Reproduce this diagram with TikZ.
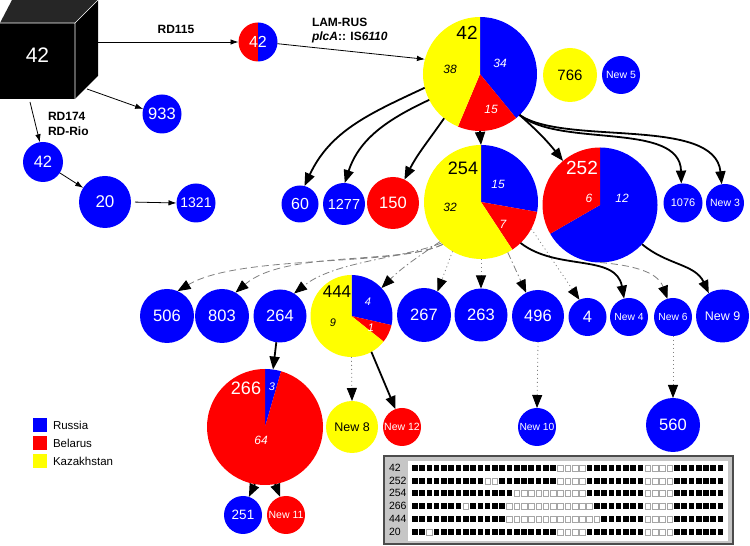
\documentclass[tikz,border=0pt]{standalone}
\usepackage{fontspec}
\setmainfont{Liberation Sans}
\usetikzlibrary{arrows.meta}
\definecolor{cb}{RGB}{0,0,255}
\definecolor{cr}{RGB}{255,0,0}
\definecolor{cy}{RGB}{255,255,0}
\newcommand\fsz[1]{\fontsize{#1}{#1}\selectfont}
\newcommand\slice[5]{\fill[#5] (#1.center) -- ++(#3:#2) arc[start angle=#3, end angle=#4, radius=#2] -- cycle;}
\newcount\spk
\newcommand\spolrow[2]{%
  \global\spk=0
  \foreach \n/\v in {#2}{%
    \foreach \i in {1,...,\n}{%
      \pgfmathsetmacro\spx{412+7.28*\the\spk}%
      \path[sq\v] (\spx,#1-2.8) rectangle ++(5.6,5.6);%
      \global\advance\spk by 1 }}}
\tikzset{
  every node/.style={inner sep=0pt, outer sep=0pt},
  circ/.style={circle, minimum size=#1, inner sep=0pt, outer sep=0pt},
  bn/.style={circ=#1, fill=cb, text=white},
  rn/.style={circ=#1, fill=cr, text=white},
  yn/.style={circ=#1, fill=cy, text=black},
  piec/.style={circ=#1},
  thin arr/.style={line width=0.8pt, -{Latex[length=8pt,width=5.5pt]}},
  thick arr/.style={line width=1.8pt, -{Triangle[length=13pt,width=10pt]}},
  gray arr/.style={line width=0.8pt, draw=gray, -{Triangle[length=13pt,width=10pt,color=black]}},
  dsh/.style={gray arr, dash pattern=on 7pt off 4pt},
  dshdot/.style={gray arr, dash pattern=on 7pt off 3pt on 1.5pt off 3pt},
  dotarr/.style={gray arr, dash pattern=on 1pt off 3pt},
  cnt/.style={font=\fsz{12}\itshape},
  lbl/.style={font=\fsz{12}\bfseries},
  sq1/.style={fill=black},
  sq0/.style={fill=white, draw=gray!70, line width=0.5pt},
  lgsq/.style={rectangle, minimum size=14pt},
}
\begin{document}
\begin{tikzpicture}[x=1pt,y=1pt]
\useasboundingbox (0,0) rectangle (750,546);
\fill[white] (0,0) rectangle (750,546);

% cube
\node[rectangle, minimum width=98, minimum height=99, anchor=south west] (cube) at (0,447) {};
\fill[black] (0,447) rectangle (75,523);
\fill[black!85] (0,523) -- (75,523) -- (98,546) -- (12,546) -- cycle;
\fill[black] (75,523) -- (98,546) -- (98,470) -- (75,447) -- cycle;
\draw[white, line width=0.6pt] (0,523) -- (75,523) -- (75,447) (75,523) -- (98,546);
\node[text=white, font=\fsz{21}] (cubetxt) at (37.5,491) {42};

% RD115 circle
\node[piec=39] (rd115) at (258,504) {};
\slice{rd115}{19.5}{90}{270}{cr}
\slice{rd115}{19.5}{-90}{90}{cb}
\node[text=white, font=\fsz{16}] (rd115t) at (258,504) {42};

% pie 42
\node[piec=114] (p42) at (480,472) {};
\slice{p42}{57}{90}{-50.69}{cb}
\slice{p42}{57}{-50.69}{-112.76}{cr}
\slice{p42}{57}{-112.76}{-270}{cy}
\node[font=\fsz{19}] (p42n) at (467,513) {42};
\node[cnt, text=white] (p42a) at (500,483) {34};
\node[cnt, text=white] (p42b) at (491,437) {15};
\node[cnt] (p42c) at (450,477) {38};

% pie 254
\node[piec=114] (p254) at (481,344) {};
\slice{p254}{57}{90}{-10}{cb}
\slice{p254}{57}{-10}{-56.67}{cr}
\slice{p254}{57}{-56.67}{-270}{cy}
\node[font=\fsz{18}] (p254n) at (463,378) {254};
\node[cnt, text=white] (p254a) at (498,362) {15};
\node[cnt, text=white] (p254b) at (503,322) {7};
\node[cnt] (p254c) at (450,339) {32};

% pie 252
\node[piec=115] (p252) at (600,341) {};
\slice{p252}{57.5}{90}{-150}{cb}
\slice{p252}{57.5}{-150}{-270}{cr}
\node[font=\fsz{19}, text=white] (p252n) at (582,378) {252};
\node[cnt, text=white] (p252a) at (589,348) {6};
\node[cnt, text=white] (p252b) at (622,348) {12};

% pie 444
\node[piec=82] (p444) at (351.5,230) {};
\slice{p444}{41}{90}{-12.86}{cb}
\slice{p444}{41}{-12.86}{-38.57}{cr}
\slice{p444}{41}{-38.57}{-270}{cy}
\node[font=\fsz{17}] (p444n) at (337,254) {444};
\node[cnt, font=\fsz{11}\itshape, text=white] (p444a) at (368,244) {4};
\node[cnt, font=\fsz{11}\itshape] (p444b) at (333,223) {9};
\node[cnt, font=\fsz{11}\itshape, text=white] (p444c) at (371,218) {1};

% pie 266
\node[piec=116] (p266) at (265,119) {};
\slice{p266}{58}{90}{73.88}{cb}
\slice{p266}{58}{73.88}{-270}{cr}
\node[font=\fsz{18}, text=white] (p266n) at (246,158) {266};
\node[cnt, font=\fsz{11}\itshape, text=white] (p266a) at (272,159) {3};
\node[cnt, text=white] (p266b) at (261,106) {64};

% plain circles
\node[bn=39, font=\fsz{16.5}] (n933) at (162,432) {933};
\node[bn=40, font=\fsz{16.5}] (nb42) at (43,384) {42};
\node[bn=52, font=\fsz{17}] (n20) at (105,344) {20};
\node[bn=39, font=\fsz{14}] (n1321) at (196,343) {1321};
\node[yn=54, font=\fsz{15}] (n766) at (570,471) {766};
\node[bn=38, font=\fsz{10.5}] (nN5) at (621,471) {New 5};
\node[bn=37, font=\fsz{16}] (n60) at (300,342) {60};
\node[bn=42, font=\fsz{14.5}] (n1277) at (344,342) {1277};
\node[rn=52, font=\fsz{16.5}] (n150) at (393,343) {150};
\node[bn=39, font=\fsz{11}] (n1076) at (683,343) {1076};
\node[bn=38, font=\fsz{10.5}] (nN3) at (725,343) {New 3};

\node[bn=54, font=\fsz{16.5}] (n506) at (167,230) {506};
\node[bn=54, font=\fsz{16.5}] (n803) at (222,230) {803};
\node[bn=53, font=\fsz{16.5}] (n264) at (280,230) {264};
\node[bn=54, font=\fsz{16.5}] (n267) at (424,231) {267};
\node[bn=53, font=\fsz{16.5}] (n263) at (481,231) {263};
\node[bn=52, font=\fsz{16.5}] (n496) at (538,230) {496};
\node[bn=38, font=\fsz{16.5}] (n4) at (587.5,229) {4};
\node[bn=38, font=\fsz{10.3}] (nN4) at (629,229) {New 4};
\node[bn=38, font=\fsz{10.3}] (nN6) at (673,229) {New 6};
\node[bn=53, font=\fsz{12.5}] (nN9) at (722.5,230) {New 9};

\node[yn=52, font=\fsz{12.5}] (nN8) at (352,119) {New 8};
\node[rn=38, font=\fsz{10.5}] (nN12) at (402,119) {New 12};
\node[bn=38, font=\fsz{10.3}] (nN10) at (537,119) {New 10};
\node[bn=54, font=\fsz{16.5}] (n560) at (673,121) {560};
\node[bn=38, font=\fsz{13.5}] (n251) at (243,31) {251};
\node[rn=38, font=\fsz{10.5}] (nN11) at (286,31) {New 11};

% labels
\node[lbl] (lRD115) at (176,517) {RD115};
\node[lbl, anchor=west] (lLAM) at (312,524) {LAM-RUS};
\node[lbl, anchor=west] (lplc) at (312,509) {\itshape plcA\upshape:: IS\itshape 6110};
\node[lbl, anchor=west] (lRD174) at (48,430) {RD174};
\node[lbl, anchor=west] (lRio) at (48,415) {RD-Rio};

% thin arrows
\draw[thin arr] (cube.east |- rd115.west) -- (rd115.west);
\draw[thin arr] (rd115.-5) -- (p42.165);
\draw[thin arr] ([shift={(-11,10)}]cube.south east) -- (n933.165);
\draw[thin arr] ([shift={(-19,-3)}]cube.south) -- (nb42.99);
\draw[thin arr] (nb42.-33) -- (n20.147);
\draw[thin arr, shorten <=4pt] (n20.east) -- (n1321.west);

% thick arrows from 42
\draw[thick arr] (p42.194) to[out=205,in=65] (n60.76);
\draw[thick arr] (p42.207) to[out=205,in=72] (n1277.88);
\draw[thick arr] (p42.231) to[out=235,in=63] (n150.64);
\draw[thick arr] (p42.south) -- (p254.north);
\draw[thick arr] (p42.-46) to[bend left=5] (p252.130);
\draw[thick arr] (p42.-46) .. controls (560,398) and (680,425) .. (n1076.95);
\draw[thick arr] (p42.-46) .. controls (565,400) and (715,430) .. (nN3.100);

% from 254
\draw[dsh] (p254.228) .. controls (397,279) and (240,292) .. (n506.67);
\draw[dsh] (p254.228) .. controls (400,281) and (285,296) .. (n803.60);
\draw[dshdot] (p254.226) .. controls (405,288) and (335,285) .. (n264.58);
\draw[dshdot] (p254.224) to[out=215,in=45] (p444.43);
\draw[dotarr] (p254.240) -- (n267.60);
\draw[dotarr] (p254.south) -- (n263.north);
\draw[dshdot] (p254.-62) -- (n496.117);
\draw[dotarr] (p254.-28) -- (n4.115);
\draw[thick arr] (p254.-46) to[out=-38,in=100] (nN4.105);
% from 252
\draw[dsh] (p252.-90) to[out=-5,in=110] (nN6.107);
\draw[thick arr] (p252.-43) to[out=-40,in=115] (nN9.121);
% lower
\draw[thick arr] (n264.-98) -- (p266.82);
\draw[dotarr] (p444.south) -- (nN8.north);
\draw[thick arr] (p444.-61) -- (nN12.110);
\draw[thick arr] (p266.-100) -- (n251.72);
\draw[thick arr] (p266.-80) -- (nN11.108);
\draw[dotarr] (n496.south) -- (nN10.north);
\draw[dotarr] (nN6.south) -- (n560.north);

% legend
\node[lgsq, fill=cb] (lgR) at (40,121) {};
\node[lgsq, fill=cr] (lgB) at (40,103) {};
\node[lgsq, fill=cy] (lgK) at (40,85) {};
\node[anchor=west, font=\fsz{11.5}] (lgRt) at (53,121) {Russia};
\node[anchor=west, font=\fsz{11.5}] (lgBt) at (53,103) {Belarus};
\node[anchor=west, font=\fsz{11.5}] (lgKt) at (53,85) {Kazakhstan};

% spoligotype box
\filldraw[fill=gray!45, draw=black!70, line width=1.2pt] (384,2) rectangle (733,90);
\fill[white] (408,5) rectangle (728,85);
\foreach \t/\yy in {42/78,252/65,254/53,266/40,444/27,20/14}{
  \node[anchor=west, font=\fsz{10.5}] (sp\t) at (389,\yy) {\t};
}
\spolrow{78}{20/1,4/0,8/1,4/0,7/1}
\spolrow{65}{10/1,2/0,8/1,4/0,8/1,4/0,7/1}
\spolrow{53}{14/1,10/0,8/1,4/0,7/1}
\spolrow{40}{7/1,1/0,5/1,12/0,7/1,4/0,7/1}
\spolrow{27}{13/1,13/0,6/1,4/0,7/1}
\spolrow{14}{2/1,1/0,17/1,4/0,8/1,4/0,7/1}
\end{tikzpicture}
\end{document}
